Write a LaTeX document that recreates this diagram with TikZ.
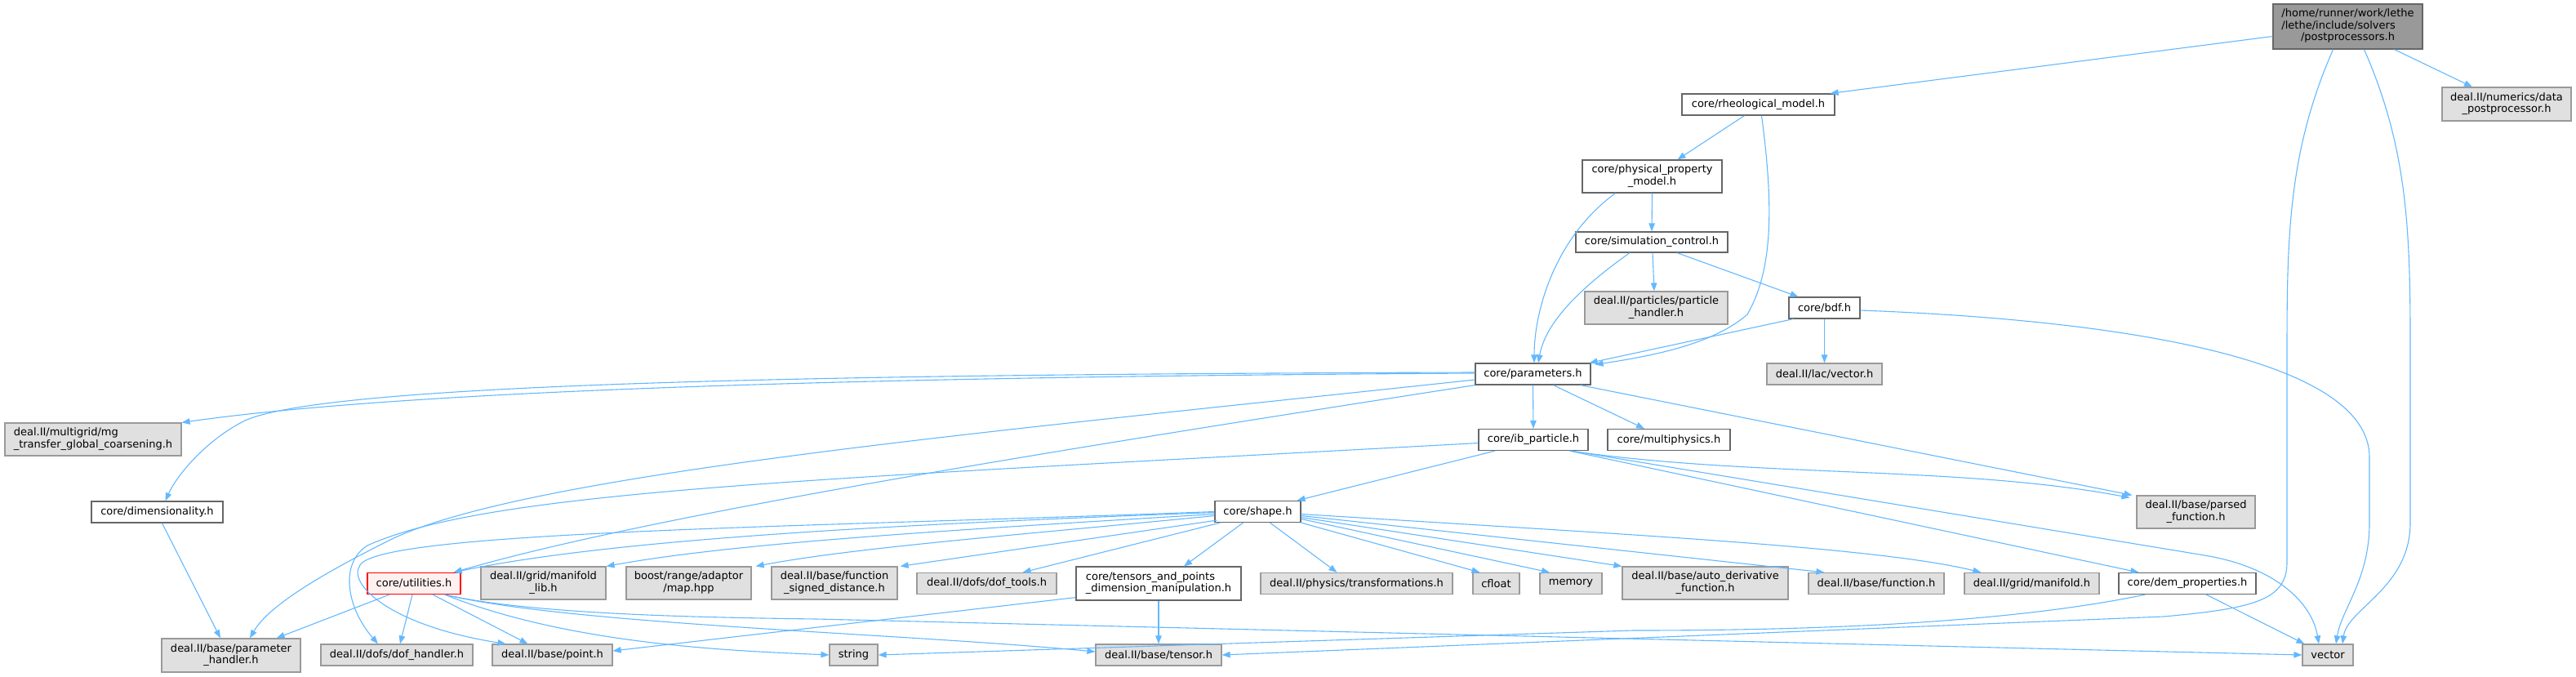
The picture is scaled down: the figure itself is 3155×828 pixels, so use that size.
\documentclass[tikz,border=0pt]{standalone}
\usepackage{fontspec}
\setmainfont{DejaVu Sans}
\usetikzlibrary{arrows.meta,calc}
\definecolor{depblue}{HTML}{63B8FF}
\definecolor{sysfill}{HTML}{E0E0E0}
\definecolor{sysgray}{HTML}{999999}
\definecolor{hdrgray}{HTML}{666666}
\definecolor{cycfill}{HTML}{FFF0F0}
\newcommand{\lbl}[2]{\begin{tabular}{@{}l@{}}#1\\\multicolumn{1}{@{}c@{}}{#2}\end{tabular}}

\begin{document}
\begin{tikzpicture}[x=1pt,y=-1pt,
  every node/.style={rectangle,inner sep=0pt,align=center,line width=1.2pt,font=\fontsize{13}{14.5}\selectfont},
  hdr/.style={draw=hdrgray,fill=white},
  sys/.style={draw=sysgray,fill=sysfill},
  sz/.style 2 args={minimum width=#1pt,minimum height=#2pt},
  dep/.style={draw=depblue,line width=1.1pt,-{Triangle[length=10pt,width=7.5pt]}}]
  \useasboundingbox (0,0) rectangle (3155,828);
  \node[hdr,fill=sysgray,sz={183}{55}] (pp) at (2875.5,32.5) {\lbl{/home/runner/work/lethe\\/lethe/include/solvers}{/postprocessors.h}};
  \node[hdr,sz={187}{26}] (rheo) at (2153.5,128) {core/rheological\_model.h};
  \node[sys,sz={158}{41}] (dpp) at (3070,127.5) {\lbl{deal.II/numerics/data}{\_postprocessor.h}};
  \node[hdr,sz={171}{40}] (phys) at (2023.5,216) {\lbl{core/physical\_property}{\_model.h}};
  \node[hdr,sz={186}{25}] (sim) at (2023,296.5) {core/simulation\_control.h};
  \node[sys,sz={175}{40}] (ph) at (2028.5,377) {\lbl{deal.II/particles/particle}{\_handler.h}};
  \node[hdr,sz={87}{26}] (bdf) at (2234.5,377) {core/bdf.h};
  \node[hdr,sz={141}{26}] (par) at (1877.5,458) {core/parameters.h};
  \node[sys,sz={141}{26}] (lvec) at (2234.5,458) {deal.II/lac/vector.h};
  \node[sys,sz={216}{40}] (mg) at (114,538) {\lbl{deal.II/multigrid/mg}{\_transfer\_global\_coarsening.h}};
  \node[hdr,sz={134}{26}] (ib) at (1878,538.5) {core/ib\_particle.h};
  \node[hdr,sz={150}{26}] (mph) at (2044,538.5) {core/multiphysics.h};
  \node[sys,sz={145}{40}] (pf) at (2689.5,627) {\lbl{deal.II/base/parsed}{\_function.h}};
  \node[hdr,sz={161}{26}] (dim) at (192.5,627) {core/dimensionality.h};
  \node[hdr,sz={105}{26}] (shape) at (1540.5,626.5) {core/shape.h};
  \node[draw=red,fill=cycfill,sz={114}{26}] (util) at (507,714.5) {core/utilities.h};
  \node[sys,sz={153}{40}] (mlib) at (665.5,714) {\lbl{deal.II/grid/manifold}{\_lib.h}};
  \node[sys,sz={153}{40}] (boost) at (843.5,714) {\lbl{boost/range/adaptor}{/map.hpp}};
  \node[sys,sz={154}{40}] (fsd) at (1022,714) {\lbl{deal.II/base/function}{\_signed\_distance.h}};
  \node[sys,sz={171}{26}] (doft) at (1208.5,714.5) {deal.II/dofs/dof\_tools.h};
  \node[hdr,sz={202}{41}] (tens) at (1419,714.5) {\lbl{core/tensors\_and\_points}{\_dimension\_manipulation.h}};
  \node[sys,sz={235}{26}] (trans) at (1661.5,714.5) {deal.II/physics/transformations.h};
  \node[sys,sz={57}{26}] (cfl) at (1832.5,714.5) {cfloat};
  \node[sys,sz={76}{26}] (mem) at (1924,714.5) {memory};
  \node[sys,sz={203}{40}] (autod) at (2088.5,714) {\lbl{deal.II/base/auto\_derivative}{\_function.h}};
  \node[sys,sz={166}{26}] (func) at (2298,714.5) {deal.II/base/function.h};
  \node[sys,sz={165}{26}] (mfold) at (2488.5,714.5) {deal.II/grid/manifold.h};
  \node[hdr,sz={168}{26}] (dem) at (2679,714.5) {core/dem\_properties.h};
  \node[sys,sz={170}{41}] (phd) at (283,802.5) {\lbl{deal.II/base/parameter}{\_handler.h}};
  \node[sys,sz={186}{26}] (dofh) at (486,802) {deal.II/dofs/dof\_handler.h};
  \node[sys,sz={147}{26}] (pnt) at (676.5,802) {deal.II/base/point.h};
  \node[sys,sz={59}{26}] (str) at (1045.5,802) {string};
  \node[sys,sz={154}{26}] (tsr) at (1419,802) {deal.II/base/tensor.h};
  \node[sys,sz={62}{26}] (vec) at (2851,802) {vector};

  \draw[dep] ($(pp.west)+(0,12)$) -- ($(rheo.north east)+(-6,0)$);
  \draw[dep] ($(pp.south)+(57,0)$) -- ($(dpp.north)+(-42,0)$);
  \draw[dep] ($(pp.south)+(-18,0)$) .. controls (2805,180) and (2801,280) .. (2801,420) -- (2801,690) .. controls (2800,735) and (2760,745) .. (2650,755) -- (tsr.east);
  \draw[dep] ($(pp.south)+(20,0)$) .. controls (2948,180) and (2952,280) .. (2952,420) -- (2952,640) .. controls (2952,720) and (2875,745) .. ($(vec.north)+(18,0)$);
  \draw[dep] ($(rheo.south)+(-17,0)$) -- ($(phys.north)+(31,0)$);
  \draw[dep] ($(rheo.south)+(4,0)$) .. controls (2172,250) and (2172,330) .. (2140,385) .. controls (2100,420) and (2030,435) .. ($(par.north east)+(5,2)$);
  \draw[dep] (phys.south) -- (sim.north);
  \draw[dep] ($(phys.south)+(-45,0)$) .. controls (1905,290) and (1879,380) .. ($(par.north)+(1.5,0)$);
  \draw[dep] ($(sim.south)+(1,0)$) -- ($(ph.north)+(-2.5,0)$);
  \draw[dep] ($(sim.south)+(31,0)$) -- ($(bdf.north)+(-32,0)$);
  \draw[dep] ($(sim.south)+(-27,0)$) .. controls (1925,360) and (1892,400) .. ($(par.north)+(6.5,0)$);
  \draw[dep] ($(bdf.south west)+(6,0)$) -- ($(par.north east)+(-2,0)$);
  \draw[dep] (bdf.south) -- (lvec.north);
  \draw[dep] ($(bdf.east)+(0,3)$) .. controls (2600,392) and (2902,440) .. (2902,560) -- (2902,640) .. controls (2902,710) and (2868,745) .. ($(vec.north)+(10,0)$);
  \draw[dep] ($(par.west)+(0,-1)$) .. controls (900,462) and (450,485) .. (mg.north east);
  \draw[dep] ($(par.west)+(0,-2)$) .. controls (1000,458) and (400,470) .. (300,515) .. controls (250,540) and (215,585) .. ($(dim.north)+(10,0)$);
  \draw[dep] ($(par.west)+(0,7)$) .. controls (1200,530) and (650,580) .. (480,660) .. controls (400,700) and (330,740) .. ($(phd.north)+(23,0)$);
  \draw[dep] (par.south west) .. controls (1300,550) and (800,630) .. ($(util.north east)+(-9,0)$);
  \draw[dep] (par.south) -- (ib.north);
  \draw[dep] ($(par.south)+(25,0)$) -- ($(mph.north)+(-30,0)$);
  \draw[dep] ($(par.south east)+(-13,0)$) -- ($(pf.north west)+(-5,0)$);
  \draw[dep] ($(ib.south)+(-47,0)$) -- ($(shape.north)+(48,0)$);
  \draw[dep] ($(ib.west)+(0,4)$) .. controls (1000,587) and (600,600) .. (450,668) .. controls (415,690) and (425,745) .. ($(dofh.north)+(-23,0)$);
  \draw[dep] ($(ib.south east)+(-23,0)$) .. controls (2150,585) and (2400,570) .. ($(pf.north west)+(-8,3)$);
  \draw[dep] ($(ib.south east)+(-23,0)$) -- ($(dem.north west)+(25,0)$);
  \draw[dep] ($(ib.south east)+(-21,0)$) -- (2700,680) .. controls (2790,695) and (2832,740) .. ($(vec.north)+(-11,0)$);
  \draw[dep] ($(dim.south)+(6,0)$) -- ($(phd.north)+(-13,0)$);
  \draw[dep] ($(shape.west)+(0,1)$) .. controls (1100,642) and (750,660) .. ($(util.north east)+(-9,0)$);
  \draw[dep] ($(shape.west)+(0,3)$) .. controls (1150,650) and (900,665) .. (mlib.north east);
  \draw[dep] ($(shape.west)+(0,5)$) .. controls (1250,655) and (1050,670) .. ($(boost.north east)+(5,0)$);
  \draw[dep] ($(shape.south west)+(3,-3)$) -- ($(fsd.north east)+(3,0)$);
  \draw[dep] ($(shape.south west)+(7,0)$) -- ($(doft.north)+(44,0)$);
  \draw[dep] ($(shape.south)+(-18,0)$) -- ($(tens.north)+(31,0)$);
  \draw[dep] ($(shape.south)+(15,0)$) -- ($(trans.north)+(-24,0)$);
  \draw[dep] (shape.south east) -- ($(cfl.north)+(-20,0)$);
  \draw[dep] ($(shape.east)+(0,9)$) -- ($(mem.north)+(-26,0)$);
  \draw[dep] ($(shape.east)+(0,7)$) -- (autod.north west);
  \draw[dep] ($(shape.east)+(0,5)$) -- ($(func.north west)+(20,0)$);
  \draw[dep] ($(shape.east)+(0,3)$) .. controls (2000,655) and (2300,670) .. ($(mfold.north west)+(21,0)$);
  \draw[dep] (shape.west) .. controls (1000,645) and (500,650) .. (445,688) .. controls (418,708) and (470,765) .. ($(pnt.north)+(-57,0)$);
  \draw[dep] ($(util.south)+(-30,0)$) -- ($(phd.north east)+(-30,0)$);
  \draw[dep] ($(util.south)+(-2,0)$) -- ($(dofh.north)+(4,0)$);
  \draw[dep] ($(util.south)+(23,0)$) -- ($(pnt.north)+(-30,0)$);
  \draw[dep] ($(util.south east)+(-20,0)$) .. controls (700,790) and (900,797) .. (str.west);
  \draw[dep] ($(util.south east)+(-20,0)$) .. controls (700,765) and (1100,775) .. ($(tsr.west)+(0,-4)$);
  \draw[dep] ($(util.south east)+(-20,0)$) .. controls (650,752) and (850,756) .. (1000,758) -- (vec.west);
  \draw[dep] ($(tens.south west)+(0,-4)$) -- ($(pnt.east)+(0,-5)$);
  \draw[dep] (tens.south) -- (tsr.north);
  \draw[dep] ($(dem.south west)+(33,0)$) .. controls (2450,765) and (2200,772) .. (2000,772) -- (str.east);
  \draw[dep] ($(dem.south)+(23,0)$) -- ($(vec.north west)+(3,0)$);
\end{tikzpicture}
\end{document}
